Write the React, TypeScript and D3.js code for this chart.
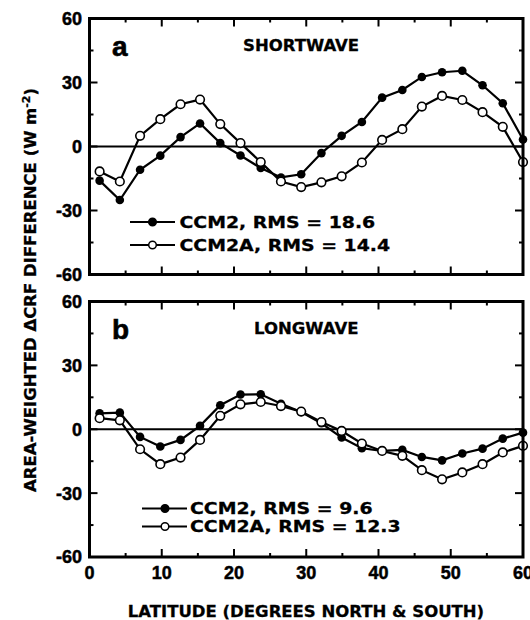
import React from 'react';
import * as d3 from 'd3';

const latitudes = [1.4, 4.2, 7.0, 9.8, 12.6, 15.3, 18.1, 20.9, 23.7, 26.5, 29.3, 32.1, 34.9, 37.7, 40.5, 43.3, 46.0, 48.8, 51.6, 54.4, 57.2, 60.0];
const swCCM2 = [-16.0, -25.1, -10.9, -4.3, 4.4, 10.8, 1.6, -4.2, -10.1, -14.5, -13.0, -3.1, 5.0, 11.5, 22.9, 26.5, 32.6, 34.8, 35.5, 28.7, 20.3, 3.3];
const swCCM2A = [-11.7, -16.4, 5.0, 12.8, 19.8, 22.0, 10.5, 1.6, -7.3, -16.4, -19.0, -16.8, -14.0, -7.5, 3.1, 8.1, 18.7, 23.7, 21.8, 16.1, 9.2, -7.3];
const lwCCM2 = [7.5, 7.8, -3.6, -8.1, -5.0, 1.6, 11.3, 16.3, 16.4, 12.0, 8.1, 2.8, -3.9, -8.9, -10.2, -9.7, -13.0, -14.6, -11.4, -9.1, -4.4, -1.6];
const lwCCM2A = [5.2, 4.2, -9.4, -16.4, -13.3, -5.0, 6.3, 11.7, 12.8, 10.9, 8.3, 3.4, -0.8, -6.7, -10.2, -12.5, -19.2, -23.5, -20.3, -16.4, -10.9, -7.8];

const seriesNames = ['CCM2', 'CCM2A'];
const swRMS = ['18.6', '14.4'];
const lwRMS = ['9.6', '12.3'];
const panelLetters = ['a', 'b'];
const panelTitles = ['SHORTWAVE', 'LONGWAVE'];
const yTickValues = [60, 30, 0, -30, -60];
const yMinorValues = [45, 15, -15, -45];
const xTickValues = [0, 10, 20, 30, 40, 50, 60];
const xMinorValues = [5, 15, 25, 35, 45, 55];

const LEFT = 89.5;
const RIGHT = 523;
const x = d3.scaleLinear().domain([0, 60]).range([LEFT, RIGHT]);

const sans = '"DejaVu Sans", sans-serif';
const helv = '"Liberation Sans", Arial, sans-serif';

type PanelProps = {
  top: number;
  bottom: number;
  filled: number[];
  open: number[];
  letter: string;
  title: string;
  titleX: number;
  rms: string[];
  legend: { lineX1: number; lineX2: number; markX: number; textX: number; y1: number; y2: number };
  showX: boolean;
};

function Panel(p: PanelProps) {
  const y = d3.scaleLinear().domain([-60, 60]).range([p.bottom, p.top]);
  const line = d3
    .line<number>()
    .x((_, i) => x(latitudes[i]))
    .y((d) => y(d));
  const R = 4.3;
  const legendRows = [
    { y: p.legend.y1, fill: 'black', name: seriesNames[0], rms: p.rms[0] },
    { y: p.legend.y2, fill: 'white', name: seriesNames[1], rms: p.rms[1] },
  ];
  return (
    <g>
      <line x1={x(0)} x2={x(60)} y1={y(0)} y2={y(0)} stroke="black" strokeWidth={2.2} />
      {xTickValues.map((t) => (
        <g key={'xt' + t}>
          <line x1={x(t)} x2={x(t)} y1={p.top} y2={p.top + 8} stroke="black" strokeWidth={2} />
          <line x1={x(t)} x2={x(t)} y1={p.bottom} y2={p.bottom - 8} stroke="black" strokeWidth={2} />
        </g>
      ))}
      {xMinorValues.map((t) => (
        <g key={'xm' + t}>
          <line x1={x(t)} x2={x(t)} y1={p.top} y2={p.top + 4} stroke="black" strokeWidth={2} />
          <line x1={x(t)} x2={x(t)} y1={p.bottom} y2={p.bottom - 4} stroke="black" strokeWidth={2} />
        </g>
      ))}
      {yTickValues.map((t) => (
        <g key={'yt' + t}>
          <line x1={LEFT} x2={LEFT + 8} y1={y(t)} y2={y(t)} stroke="black" strokeWidth={2} />
          <line x1={RIGHT} x2={RIGHT - 8} y1={y(t)} y2={y(t)} stroke="black" strokeWidth={2} />
          <text
            x={LEFT - 7.5}
            y={y(t)}
            dy="0.36em"
            textAnchor="end"
            fontFamily={helv}
            fontWeight="bold"
            fontSize={18}
            stroke="black"
            strokeWidth={0.5}
          >
            {t}
          </text>
        </g>
      ))}
      {yMinorValues.map((t) => (
        <g key={'ym' + t}>
          <line x1={LEFT} x2={LEFT + 4} y1={y(t)} y2={y(t)} stroke="black" strokeWidth={2} />
          <line x1={RIGHT} x2={RIGHT - 4} y1={y(t)} y2={y(t)} stroke="black" strokeWidth={2} />
        </g>
      ))}
      {p.showX &&
        xTickValues.map((t) => (
          <text
            key={'xl' + t}
            x={x(t)}
            y={p.bottom + 21.5}
            textAnchor="middle"
            fontFamily={helv}
            fontWeight="bold"
            fontSize={18}
            stroke="black"
            strokeWidth={0.5}
          >
            {t}
          </text>
        ))}
      <path d={line(p.filled) || ''} fill="none" stroke="black" strokeWidth={2.2} />
      {p.filled.map((v, i) => (
        <circle key={'f' + i} cx={x(latitudes[i])} cy={y(v)} r={R} fill="black" />
      ))}
      <path d={line(p.open) || ''} fill="none" stroke="black" strokeWidth={2.2} />
      {p.open.map((v, i) => (
        <circle key={'o' + i} cx={x(latitudes[i])} cy={y(v)} r={R} fill="white" stroke="black" strokeWidth={1.6} />
      ))}
      <rect x={LEFT} y={p.top} width={RIGHT - LEFT} height={p.bottom - p.top} fill="none" stroke="black" strokeWidth={3} />
      <text x={112} y={p.top + 37} fontFamily={helv} fontWeight="bold" fontSize={28} stroke="black" strokeWidth={0.6}>
        {p.letter}
      </text>
      <text x={p.titleX} y={p.top + 32} fontFamily={sans} fontWeight="bold" fontSize={16.5} stroke="black" strokeWidth={0.3}>
        {p.title}
      </text>
      {legendRows.map((r) => (
        <g key={r.name}>
          <line x1={p.legend.lineX1} x2={p.legend.lineX2} y1={r.y} y2={r.y} stroke="black" strokeWidth={2.2} />
          <circle cx={p.legend.markX} cy={r.y} r={3.8} fill={r.fill} stroke="black" strokeWidth={1.5} />
          <g transform={`translate(${p.legend.textX},${r.y}) scale(1.18,1)`}>
            <text x={0} y={0} dy="0.36em" fontFamily={sans} fontWeight="bold" fontSize={16} stroke="black" strokeWidth={0.3}>
              {`${r.name}, RMS = ${r.rms}`}
            </text>
          </g>
        </g>
      ))}
    </g>
  );
}

export default function App() {
  return (
    <svg
      width={530}
      height={620}
      style={{ position: 'absolute', left: 0, top: 0, background: 'white' }}
    >
      <rect x={0} y={0} width={530} height={620} fill="white" />
      <Panel
        top={18.5}
        bottom={274.5}
        filled={swCCM2}
        open={swCCM2A}
        letter={panelLetters[0]}
        title={panelTitles[0]}
        titleX={243}
        rms={swRMS}
        legend={{ lineX1: 130, lineX2: 175, markX: 152.5, textX: 179.5, y1: 222, y2: 245 }}
        showX={false}
      />
      <Panel
        top={301.5}
        bottom={557}
        filled={lwCCM2}
        open={lwCCM2A}
        letter={panelLetters[1]}
        title={panelTitles[1]}
        titleX={254}
        rms={lwRMS}
        legend={{ lineX1: 142, lineX2: 187, markX: 165, textX: 190, y1: 508.5, y2: 526.5 }}
        showX={true}
      />
      <text
        transform="translate(36,290) rotate(-90)"
        textAnchor="middle"
        fontFamily={sans}
        fontWeight="bold"
        fontSize={16.5}
        stroke="black"
        strokeWidth={0.3}
      >
        AREA-WEIGHTED ΔCRF DIFFERENCE (W m
        <tspan dy={-6} fontSize={11}>-2</tspan>
        <tspan dy={6}>)</tspan>
      </text>
      <text x={306} y={617} textAnchor="middle" fontFamily={sans} fontWeight="bold" fontSize={16.5} stroke="black" strokeWidth={0.3}>
        LATITUDE (DEGREES NORTH &amp; SOUTH)
      </text>
    </svg>
  );
}
